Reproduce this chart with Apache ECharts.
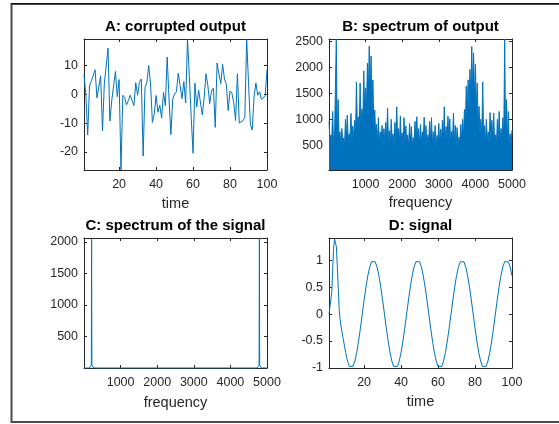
<!DOCTYPE html>
<html>
<head>
<meta charset="utf-8">
<script src="https://cdn.jsdelivr.net/npm/echarts@6/dist/echarts.min.js"></script>
<style>
html, body { margin: 0; padding: 0; background: #fff; }
#main { width: 559px; height: 424px; }
</style>
</head>
<body>
<div id="main"></div>
<script>
// A: corrupted output, one value per time step 1..100
var outA = [6.8, -0.5, -14.1, 2.8, 4.6, 4.2, 8.4, -1.3, -0.8, 6.3,
  -12.7, 3.6, 3.1, 15.9, -9.3, -2.3, -2.9, 7.8, -0.9, 5.0,
  -26.2, -0.4, -1.2, -3.7, -2.3, -0.4, -0.8, -4.0, 3.9, -0.4,
  4.2, 5.2, -21.4, 2.3, 4.0, 9.9, 3.5, -9.8, -6.9, -0.5,
  -6.3, -3.8, -8.3, 0.6, -4.0, 12.8, -1.7, -14.0, -1.7, 0.0,
  0.8, 7.2, 2.9, -1.6, 4.3, -3.1, 19.0, 6.0, -8.0, -20.4,
  3.8, -4.5, 1.4, 1.7, -7.2, -1.2, 7.0, 2.9, -3.3, 1.1,
  2.0, -11.5, 10.7, 6.9, 3.6, 10.2, 5.2, 3.4, -5.7, 1.1,
  0.3, -2.9, -9.1, 7.0, -10.0, -9.6, -9.2, -8.0, 18.9, 4.0,
  -10.5, -12.4, -1.0, 3.8, -0.4, 0.8, -1.8, -1.5, -0.6, 8.3];

// B: spectrum of output, peaks at f = 0, 50, ... 5000 and dips in between (25, 75, ...)
var specBHigh = [960, 700, 1150, 620, 2546, 1380, 760, 820, 640, 1000,
  1080, 720, 1110, 870, 980, 1720, 1050, 1700, 1200, 1930,
  1600, 2080, 2410, 2220, 1760, 1180, 900, 1030, 760, 880,
  820, 940, 1220, 780, 1000, 720, 940, 1240, 820, 1060,
  740, 1030, 870, 700, 920, 860, 650, 960, 1050, 820,
  900, 760, 1040, 880, 700, 960, 1030, 760, 880, 690,
  920, 810, 980, 1240, 860, 1060, 1010, 770, 1120, 880,
  840, 660, 900, 1000, 1190, 1640, 1760, 1960, 2400, 2280,
  2060, 1700, 1250, 1000, 1720, 880, 1000, 760, 1130, 980,
  1120, 700, 1000, 1150, 820, 1030, 2546, 1380, 1150, 720,
  790];
var specBLow = [560, 620, 520, 600, 580, 640, 480, 560, 500, 620,
  560, 640, 520, 600, 700, 820, 760, 900, 980, 1150,
  1250, 1500, 1450, 1150, 850, 700, 560, 520, 600, 480,
  560, 620, 540, 500, 580, 460, 600, 640, 520, 580,
  480, 560, 500, 440, 560, 480, 520, 600, 560, 500,
  540, 580, 520, 460, 560, 600, 500, 540, 460, 560,
  520, 580, 640, 560, 600, 620, 500, 580, 560, 520,
  460, 540, 600, 680, 850, 1050, 1200, 1450, 1550, 1400,
  1150, 900, 700, 620, 640, 560, 580, 500, 600, 580,
  520, 480, 600, 560, 620, 640, 640, 600, 500, 520];

// C: spectrum of the signal
var freqC = [0, 150, 200, 208, 216, 266, 4734, 4784, 4792, 4800, 4850, 5000];
var specC = [0, 0, 45, 2063, 45, 0, 0, 45, 2063, 45, 0, 0];

// D: signal
var timeD = [1, 1.5, 2, 2.5, 3, 3.5, 4, 4.5, 5, 5.5, 6, 6.5, 7, 7.5, 8, 8.5, 9];
for (var t = 10; t <= 100; t++) timeD.push(t);
var sigD = [0, 0, 0, 0.4, 0.85, 1.22, 1.39, 1.41, 1.25, 0.88, 0.48, 0.1, -0.1, -0.22, -0.33, -0.43, -0.52,
  -0.71, -0.87, -0.97, -1, -0.97, -0.87, -0.71, -0.5, -0.26, 0, 0.26, 0.5, 0.71, 0.87, 0.97,
  1, 0.97, 0.87, 0.71, 0.5, 0.26, 0, -0.26, -0.5, -0.71, -0.87, -0.97, -1, -0.97, -0.87, -0.71, -0.5, -0.26, 0, 0.26, 0.5, 0.71, 0.87, 0.97,
  1, 0.97, 0.87, 0.71, 0.5, 0.26, 0, -0.26, -0.5, -0.71, -0.87, -0.97, -1, -0.97, -0.87, -0.71, -0.5, -0.26, 0, 0.26, 0.5, 0.71, 0.87, 0.97,
  1, 0.97, 0.87, 0.71, 0.5, 0.26, 0, -0.26, -0.5, -0.71, -0.87, -0.97, -1, -0.97, -0.87, -0.71, -0.5, -0.26, 0, 0.26, 0.5, 0.71, 0.87, 0.97,
  1, 0.97, 0.87, 0.71];

// tick labels
var ticksTime = [20, 40, 60, 80, 100];
var ticksFreq = [1000, 2000, 3000, 4000, 5000];
var ticksA = [-20, -10, 0, 10];
var ticksB = [500, 1000, 1500, 2000, 2500];
var ticksC = [500, 1000, 1500, 2000];
var ticksD = [-1, -0.5, 0, 0.5, 1];

var lineColor = '#0072BD';
var axisColor = '#262626';
var font = '"Liberation Sans", Arial, Helvetica, sans-serif';

var dataA = outA.map(function (v, i) { return [i + 1, v]; });
var dataB = [];
for (var i = 0; i < specBHigh.length; i++) {
  dataB.push([i * 50, specBHigh[i]]);
  if (i < specBLow.length) dataB.push([i * 50 + 25, specBLow[i]]);
}
var dataC = freqC.map(function (f, i) { return [f, specC[i]]; });
var dataD = timeD.map(function (t, i) { return [t, sigD[i]]; });

// one axis with labels, one mirrored with ticks only (box look)
function axes(g, min, max, ticks, isX) {
  var main = isX ? 'bottom' : 'left';
  var other = isX ? 'top' : 'right';
  return [main, other].map(function (pos, k) {
    return {
      gridIndex: g, type: 'value', position: pos, min: min, max: max,
      axisLine: { show: true, onZero: false, lineStyle: { color: axisColor, width: 1 } },
      axisTick: { show: true, inside: true, length: 3, customValues: ticks, lineStyle: { color: axisColor, width: 1 } },
      axisLabel: {
        show: k === 0, margin: isX ? 8 : 6, customValues: ticks, color: axisColor, fontSize: 12.5, fontFamily: font,
        formatter: function (v) { return String(v); }
      },
      splitLine: { show: false }
    };
  });
}

function lineSeries(g, data, filled) {
  var s = {
    type: 'line', xAxisIndex: 2 * g, yAxisIndex: 2 * g, data: data,
    showSymbol: false, symbol: 'none', sampling: null,
    lineStyle: { color: lineColor, width: 1 }, itemStyle: { color: lineColor },
    emphasis: { disabled: true }, animation: false
  };
  if (filled) s.areaStyle = { color: lineColor, opacity: 1, origin: 'start' };
  return s;
}

function label(x, y, text, bold) {
  return {
    type: 'text', x: x, y: y, silent: true,
    style: {
      text: text, fill: bold ? '#000' : axisColor,
      font: (bold ? 'bold 15px ' : '14.5px ') + font,
      align: 'center', verticalAlign: 'middle', textAlign: 'center', textVerticalAlign: 'middle'
    }
  };
}

var chart = echarts.init(document.getElementById('main'), null, { renderer: 'canvas' });
chart.setOption({
  backgroundColor: '#fff',
  animation: false,
  grid: [
    { left: 84, top: 39, width: 183, height: 131 },
    { left: 329, top: 39, width: 183, height: 131 },
    { left: 84, top: 238, width: 183, height: 130 },
    { left: 329, top: 238, width: 183, height: 130 }
  ],
  xAxis: [].concat(
    axes(0, 1, 100, ticksTime, true),
    axes(1, 0, 5000, ticksFreq, true),
    axes(2, 0, 5000, ticksFreq, true),
    axes(3, 1, 100, ticksTime, true)
  ),
  yAxis: [].concat(
    axes(0, -26.2, 19, ticksA, false),
    axes(1, 23, 2546, ticksB, false),
    axes(2, 0, 2063, ticksC, false),
    axes(3, -1, 1.41, ticksD, false)
  ),
  series: [
    lineSeries(0, dataA),
    lineSeries(1, dataB, true),
    lineSeries(2, dataC),
    lineSeries(3, dataD)
  ],
  graphic: [
    { type: 'polyline', silent: true, shape: { points: [[559, 4], [11.5, 4], [11.5, 422], [559, 422]] },
      style: { stroke: '#4a4a4a', lineWidth: 2, fill: null } },
    { type: 'line', silent: true, shape: { x1: 11, y1: 3.5, x2: 559, y2: 3.5 },
      style: { stroke: '#111', lineWidth: 1 } },
    label(175.5, 27, 'A: corrupted output', true),
    label(420.5, 27, 'B: spectrum of output', true),
    label(175.5, 225.5, 'C: spectrum of the signal', true),
    label(420.5, 225.5, 'D: signal', true),
    label(175.5, 203.5, 'time', false),
    label(420.5, 203, 'frequency', false),
    label(175.5, 402.5, 'frequency', false),
    label(420.5, 402, 'time', false)
  ]
});
</script>
</body>
</html>
